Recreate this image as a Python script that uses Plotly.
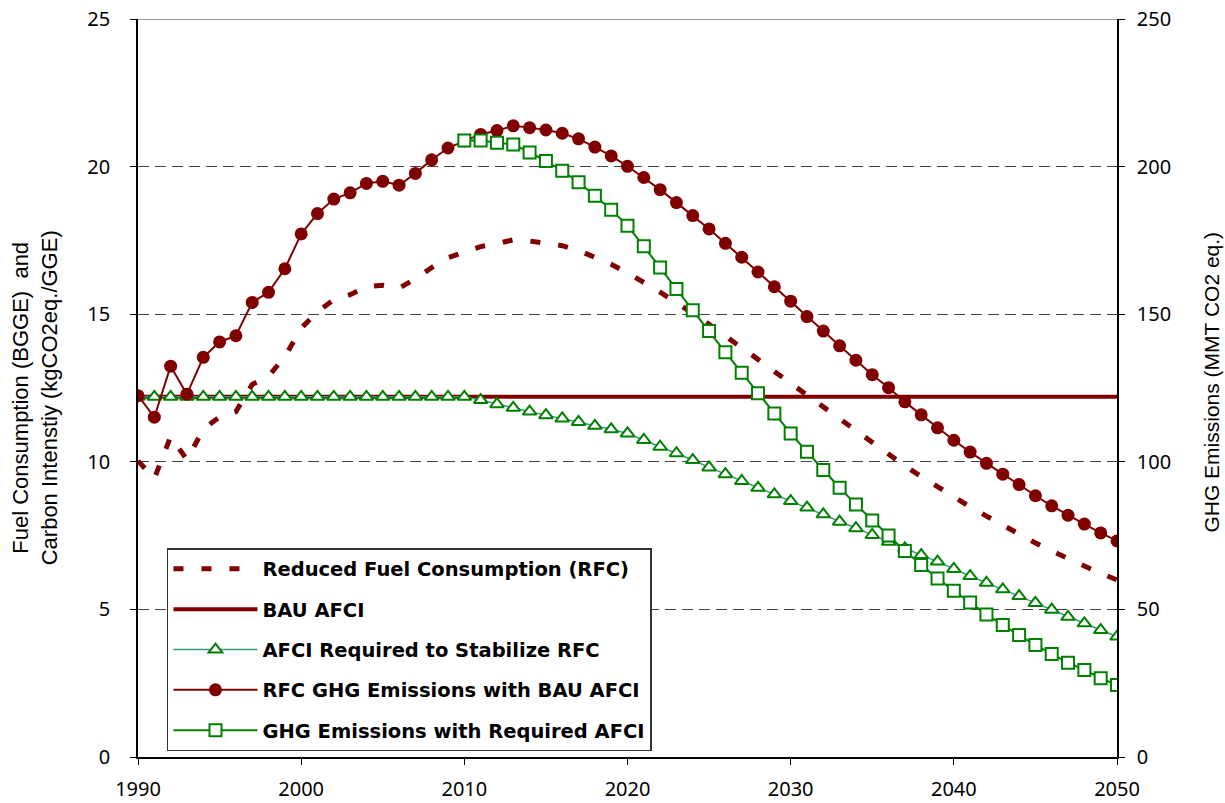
import plotly.graph_objects as go

years = list(range(1990, 2051))

# Reduced Fuel Consumption (BGGE) - left axis
rfc = [10.03, 9.43, 10.85, 10.07, 11.10, 11.52, 11.70, 12.62, 12.90, 13.56,
       14.52, 15.09, 15.49, 15.66, 15.93, 15.98, 15.88, 16.20, 16.58, 16.91,
       17.11, 17.29, 17.39, 17.52, 17.48, 17.41, 17.32, 17.16, 16.93, 16.69,
       16.40, 16.09, 15.75, 15.39, 15.03, 14.66, 14.26, 13.88, 13.47, 13.06,
       12.66, 12.23, 11.83, 11.42, 11.02, 10.61, 10.25, 9.86, 9.50, 9.14,
       8.80, 8.47, 8.16, 7.85, 7.57, 7.25, 6.98, 6.71, 6.47, 6.22,
       6.00]

# BAU AFCI (kgCO2eq./GGE) - left axis
bau_afci = [12.2, 12.2, 12.2, 12.2, 12.2, 12.2, 12.2, 12.2, 12.2, 12.2,
            12.2, 12.2, 12.2, 12.2, 12.2, 12.2, 12.2, 12.2, 12.2, 12.2,
            12.2, 12.2, 12.2, 12.2, 12.2, 12.2, 12.2, 12.2, 12.2, 12.2,
            12.2, 12.2, 12.2, 12.2, 12.2, 12.2, 12.2, 12.2, 12.2, 12.2,
            12.2, 12.2, 12.2, 12.2, 12.2, 12.2, 12.2, 12.2, 12.2, 12.2,
            12.2, 12.2, 12.2, 12.2, 12.2, 12.2, 12.2, 12.2, 12.2, 12.2,
            12.2]

# AFCI required to stabilize RFC - left axis
afci_req = [12.2, 12.2, 12.2, 12.2, 12.2, 12.2, 12.2, 12.2, 12.2, 12.2,
            12.2, 12.2, 12.2, 12.2, 12.2, 12.2, 12.2, 12.2, 12.2, 12.2,
            12.2, 12.09, 11.95, 11.83, 11.70, 11.58, 11.47, 11.35, 11.22, 11.10,
            10.96, 10.74, 10.51, 10.29, 10.06, 9.81, 9.58, 9.35, 9.12, 8.90,
            8.67, 8.45, 8.22, 7.97, 7.75, 7.52, 7.29, 7.07, 6.84, 6.62,
            6.37, 6.13, 5.90, 5.68, 5.45, 5.22, 4.99, 4.75, 4.53, 4.30,
            4.08]

# RFC GHG emissions with BAU AFCI (MMT CO2 eq.) - right axis
ghg_bau = [122.4, 115.1, 132.4, 122.9, 135.4, 140.6, 142.7, 154.0, 157.4, 165.4,
           177.2, 184.1, 189.0, 191.1, 194.3, 195.0, 193.7, 197.7, 202.3, 206.3,
           208.7, 210.9, 212.2, 213.8, 213.2, 212.4, 211.3, 209.4, 206.6, 203.6,
           200.1, 196.3, 192.2, 187.8, 183.4, 178.9, 174.0, 169.3, 164.3, 159.3,
           154.4, 149.2, 144.3, 139.3, 134.4, 129.5, 125.1, 120.3, 115.9, 111.5,
           107.3, 103.3, 99.5, 95.8, 92.3, 88.5, 85.1, 81.9, 78.9, 75.9,
           73.2]

# GHG emissions with required AFCI (MMT CO2 eq.) - right axis
years_req = list(range(2010, 2051))
ghg_req = [208.8, 208.8, 208.1, 207.5, 204.8, 201.9, 198.6, 194.7, 190.1, 185.4,
           180.0, 173.0, 165.8, 158.5, 151.3, 144.3, 137.1, 130.2, 123.2, 116.4,
           109.6, 103.4, 97.2, 91.2, 85.5, 80.1, 75.0, 69.8, 65.0, 60.5,
           56.3, 52.3, 48.3, 44.7, 41.3, 37.9, 34.9, 31.9, 29.5, 26.7,
           24.4]

x_ticks = [1990, 2000, 2010, 2020, 2030, 2040, 2050]
left_ticks = [0, 5, 10, 15, 20, 25]
right_ticks = [0, 50, 100, 150, 200, 250]

MAROON = "#800000"
GREEN = "#008000"
TEAL = "#339980"

fig = go.Figure()

fig.add_trace(go.Scatter(
    x=years, y=rfc, name="Reduced Fuel Consumption (RFC)", mode="lines",
    line=dict(color=MAROON, width=5, dash="10px,18px"), legendgroup="a"))
fig.add_trace(go.Scatter(
    x=years, y=bau_afci, name="BAU AFCI", mode="lines",
    line=dict(color=MAROON, width=4), legendgroup="b"))
fig.add_trace(go.Scatter(
    x=years, y=afci_req, name="AFCI Required to Stabilize RFC", mode="lines+markers",
    line=dict(color=TEAL, width=1.5),
    marker=dict(symbol="triangle-up", size=12, color="white",
                line=dict(color=GREEN, width=2)), legendgroup="c"))
fig.add_trace(go.Scatter(
    x=years, y=ghg_bau, name="RFC GHG Emissions with BAU AFCI", mode="lines+markers",
    yaxis="y2", line=dict(color=MAROON, width=2),
    marker=dict(symbol="circle", size=13, color=MAROON), legendgroup="d"))
fig.add_trace(go.Scatter(
    x=years_req, y=ghg_req, name="GHG Emissions with Required AFCI", mode="lines+markers",
    yaxis="y2", line=dict(color=GREEN, width=2),
    marker=dict(symbol="square", size=12, color="white",
                line=dict(color=GREEN, width=2)), legendgroup="e"))

tick_font = dict(family="Noto Sans, Open Sans, sans-serif", size=20, color="#000")
title_font = dict(family="Liberation Sans Narrow, Liberation Sans, sans-serif", size=22, color="#000")
title_font_r = dict(family="Liberation Sans Narrow, Liberation Sans, sans-serif", size=21, color="#000")

fig.update_layout(
    width=1225, height=803,
    margin=dict(l=138, r=108, t=19, b=46, autoexpand=False),
    paper_bgcolor="white", plot_bgcolor="white",
    showlegend=True,
    legend=dict(
        x=0.0296, y=0.283, xanchor="left", yanchor="top",
        bgcolor="white", bordercolor="#333", borderwidth=1.5,
        font=dict(family="DejaVu Sans, sans-serif", size=19.5, color="#000", weight="bold"),
        itemwidth=84, tracegroupgap=12, traceorder="grouped",
    ),
    xaxis=dict(
        range=[1990, 2050], tickmode="array", tickvals=x_ticks,
        ticks="outside", ticklen=6, tickcolor="#000", tickwidth=1,
        showline=True, linecolor="#000", linewidth=1.5,
        showgrid=False, zeroline=False, tickfont=tick_font,
        ticklabelstandoff=7, automargin=False,
    ),
    yaxis=dict(
        range=[0, 25], tickmode="array", tickvals=left_ticks,
        ticks="outside", ticklen=6, tickcolor="#000", tickwidth=1,
        showline=True, linecolor="#000", linewidth=1.5,
        showgrid=True, gridcolor="#444", griddash="11px,6px", gridwidth=1,
        zeroline=False, tickfont=tick_font, ticklabelstandoff=16, automargin=False,
    ),
    yaxis2=dict(
        range=[0, 250], tickmode="array", tickvals=right_ticks,
        overlaying="y", side="right",
        ticks="outside", ticklen=6, tickcolor="#000", tickwidth=1,
        showline=True, linecolor="#000", linewidth=1.5,
        showgrid=False, zeroline=False, tickfont=tick_font, ticklabelstandoff=8,
        automargin=False,
    ),
    shapes=[dict(type="line", xref="paper", yref="y", x0=0, x1=1, y0=25, y1=25,
                 line=dict(color="#999", width=2))],
    annotations=[
        dict(text="Fuel Consumption (BGGE)  and<br>Carbon Intenstiy (kgCO2eq./GGE)",
             xref="paper", yref="paper", x=-0.1055, y=0.487,
             xanchor="center", yanchor="middle", textangle=-90,
             showarrow=False, font=title_font),
        dict(text="GHG Emissions (MMT CO2 eq.)",
             xref="paper", yref="paper", x=1.0965, y=0.508,
             xanchor="center", yanchor="middle", textangle=-90,
             showarrow=False, font=title_font_r),
    ],
)

fig.write_html("out.html", config={"displayModeBar": False},
               post_script="document.body.style.margin='0';document.body.style.overflow='hidden';")
